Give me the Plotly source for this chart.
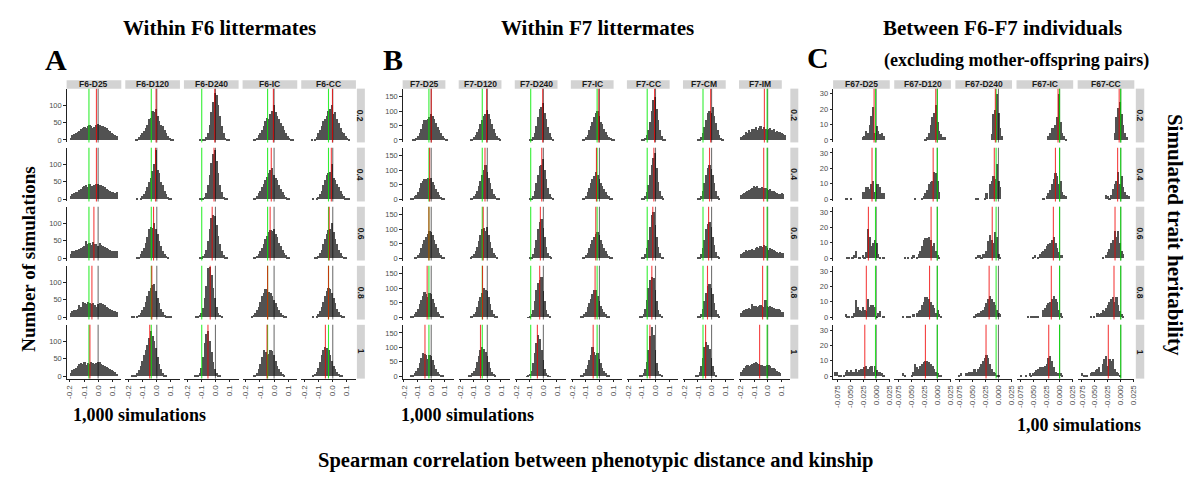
import plotly.graph_objects as go

# ---------------- DATA ----------------
HERITABILITY = ["0.2", "0.4", "0.6", "0.8", "1"]

COLS_A = ["F6-D25", "F6-D120", "F6-D240", "F6-IC", "F6-CC"]
COLS_B = ["F7-D25", "F7-D120", "F7-D240", "F7-IC", "F7-CC", "F7-CM", "F7-IM"]
COLS_C = ["F67-D25", "F67-D120", "F67-D240", "F67-IC", "F67-CC"]

# histogram bins: (first bin index, counts) per heritability row
BIN_ORIGIN_AB, BIN_WIDTH_AB = -0.2, 0.012
BIN_ORIGIN_C, BIN_WIDTH_C = -0.08, 0.00333

F6_D25 = [
    (0, [8,15,18,20,25,28,32,35,38,36,40,45,42,35,38,45,48,45,42,40,38,35,30,28,22,18,15,13]),
    (0, [10,14,18,22,20,28,30,35,38,40,35,45,38,38,40,45,44,42,40,38,35,30,28,25,22,20,18,20]),
    (0, [12,20,22,25,25,28,30,32,35,50,40,45,38,48,42,40,35,45,38,35,32,30,28,25,22,20,22,20]),
    (0, [12,18,20,22,25,35,30,45,40,38,45,40,38,42,35,30,38,40,42,38,35,30,28,25,22,18,17,15]),
    (0, [10,18,22,25,30,35,38,35,40,32,38,35,40,38,35,38,42,40,35,32,30,28,25,22,18,15,12,8]),
]
F6_D120 = [
    (4, [3,5,10,15,22,28,35,45,60,65,85,80,90,70,55,45,40,30,20,12,8,5,3]),
    (5, [2,0,5,10,15,25,35,50,60,80,100,140,85,75,50,40,25,15,8,5,3]),
    (5, [3,5,12,20,30,45,60,85,90,88,100,85,70,50,35,20,12,6,3]),
    (2, [2,2,0,3,6,12,20,30,45,60,75,85,92,95,75,55,40,25,15,8,5,3,2,1]),
    (2, [2,3,5,10,18,30,45,60,75,90,110,130,115,100,80,55,35,20,10,5,3]),
]
F6_D240 = [
    (7, [2,0,3,5,10,20,45,80,110,135,130,100,70,40,20,8,5,2]),
    (7, [1,2,4,8,18,40,70,105,130,140,110,75,40,20,8,3,1]),
    (7, [2,3,6,12,25,50,85,115,125,120,95,65,40,20,10,4,2]),
    (5, [1,3,6,12,28,55,90,140,145,120,85,55,30,12,6,2]),
    (4, [1,2,5,10,25,55,95,120,130,100,70,40,20,10,5,2]),
]
F6_IC = [
    (4, [2,5,8,15,20,30,40,55,65,60,75,85,100,80,70,60,50,40,30,20,12,8,5,3]),
    (4, [3,5,10,18,25,35,45,55,65,75,85,90,70,60,55,40,30,20,12,8,5,3]),
    (4, [2,4,8,12,20,30,40,55,65,75,80,78,85,70,60,45,35,25,15,10,5,3]),
    (3, [3,6,12,20,30,45,60,70,80,78,72,70,60,50,40,30,20,12,8,5,3]),
    (4, [2,5,10,20,35,55,75,70,60,65,75,72,60,45,30,20,12,6,3]),
]
F6_CC = [
    (4, [2,0,5,10,20,30,40,55,60,70,85,90,100,75,80,60,50,35,25,20,12,8,4]),
    (5, [3,0,5,8,15,25,40,55,70,75,78,100,60,55,45,35,25,15,10,5,3,2]),
    (6, [2,4,8,15,25,40,55,70,80,85,100,75,55,40,25,15,8,4,2]),
    (5, [2,0,5,10,18,30,45,60,75,85,80,70,55,40,25,15,8,4,2]),
    (5, [3,6,12,25,40,60,75,85,80,75,60,45,30,20,12,6,3,1]),
]
F7_D25 = [
    (5, [2,4,8,15,25,40,55,70,72,75,80,90,85,75,60,45,35,25,15,8,4,2]),
    (4, [2,5,10,15,25,40,55,65,70,72,75,70,75,60,50,35,25,15,8,4,2]),
    (6, [2,5,10,20,35,50,65,75,85,95,90,80,65,50,35,20,10,5,2]),
    (4, [2,5,10,20,30,45,60,75,88,80,70,85,80,65,50,35,20,10,5,2]),
    (4, [2,5,10,18,30,45,65,80,78,75,60,75,70,55,40,25,15,8,4,2]),
]
F7_D120 = [
    (6, [2,4,10,18,28,40,55,70,85,92,105,90,75,55,40,25,15,8,3]),
    (6, [2,5,10,20,30,45,65,85,100,120,95,75,55,35,20,10,5,2]),
    (6, [3,8,15,25,40,60,80,100,105,95,110,80,55,35,20,10,4]),
    (6, [2,5,10,20,35,55,70,85,100,95,90,70,45,25,12,5,2]),
    (5, [2,5,10,18,30,50,70,90,100,95,85,70,50,30,15,8,3]),
]
F7_D240 = [
    (8, [2,5,10,25,50,80,110,115,130,95,75,45,25,10,4]),
    (8, [2,5,12,28,55,85,115,120,140,100,70,40,20,8,3]),
    (8, [2,6,15,35,65,100,125,135,105,75,40,20,8,3]),
    (7, [1,4,10,25,55,95,120,130,140,90,55,25,10,3]),
    (6, [1,3,8,20,45,80,115,145,130,90,55,25,10,3,1]),
]
F7_IC = [
    (6, [3,5,10,20,35,50,65,80,95,100,85,65,55,40,30,20,12,8,4,2]),
    (6, [2,5,12,25,40,55,70,80,95,85,70,55,45,35,25,15,10,5,2]),
    (6, [2,5,10,20,35,50,65,75,85,90,80,65,50,35,25,15,8,4,2]),
    (5, [2,5,10,20,35,50,65,80,95,95,75,55,40,28,18,10,5,2]),
    (5, [2,5,12,25,40,55,75,100,85,75,80,60,45,30,18,10,5,2]),
]
F7_CC = [
    (8, [2,3,8,18,35,65,100,140,150,110,70,35,15,5,2]),
    (8, [2,5,10,25,50,85,120,145,160,110,60,30,12,4]),
    (8, [3,6,15,35,65,110,150,160,115,75,40,18,6,2]),
    (7, [2,5,12,30,60,100,130,140,135,95,55,25,10,3]),
    (7, [2,4,10,25,50,90,140,170,145,90,45,20,8,2]),
]
F7_CM = [
    (8, [2,4,10,25,45,70,95,100,95,115,85,60,35,18,8,3]),
    (8, [2,5,12,30,55,85,110,120,105,85,55,30,12,4]),
    (8, [2,6,15,35,65,100,120,125,110,75,45,22,8,3]),
    (8, [2,5,12,28,55,85,110,115,100,80,50,25,10,3]),
    (7, [2,5,15,35,65,100,120,110,95,65,35,15,5]),
]
F7_IM = [
    (0, [12,15,20,28,25,35,30,40,38,45,35,42,50,40,45,38,35,40,42,35,38,30,32,28,30,25,22,20]),
    (0, [15,18,22,25,28,32,35,40,45,42,45,40,38,42,40,38,35,32,35,30,28,25,22,20,18,22,20]),
    (0, [15,20,22,28,25,30,28,32,30,35,38,35,42,40,45,42,35,30,35,32,28,25,22,20,22,20,18]),
    (0, [15,22,25,28,30,32,28,45,38,40,35,38,42,38,35,60,40,35,38,35,32,30,28,30,25,20,18]),
    (0, [15,22,30,35,38,35,40,42,45,50,45,42,40,38,35,35,40,38,35,30,28,25,20,15,12]),
]
F67_D25 = [
    (16, [2,3,6,5,10,16,22,5,9,6,4,5,3]),
    (6, [1,1,0,1,0,0,0,0,0,0,5,5,8,8,7,10,12,5,10,10,8,4,4]),
    (7, [1,1,0,1,2,5,0,1,0,2,1,4,19,14,8,10,12,10,3,1,0,1]),
    (6, [2,1,1,0,1,3,11,7,5,4,7,5,4,12,7,8,8,7,1,3,4,0,1]),
    (0, [3,3,1,1,0,1,3,4,3,4,3,3,5,3,4,5,5,6,7,5,6,7,3,7,4,3,3,2,1]),
]
F67_D120 = [
    (17, [1,2,5,10,15,18,23,12,6,4,2,2]),
    (11, [1,0,0,0,1,2,4,6,10,11,12,18,17,12,5]),
    (5, [1,0,1,0,1,2,0,1,3,5,8,12,13,13,14,12,8,10,5,2,1]),
    (4, [1,0,1,1,1,0,2,0,3,4,5,8,10,13,13,12,10,8,6,3,5,2,1]),
    (4, [2,1,0,0,0,1,3,8,6,5,7,8,9,10,10,9,8,7,5,3,2,1,1]),
]
F67_D240 = [
    (20, [4,17,20,30,18,8,3]),
    (11, [1,1,0,0,0,1,4,0,10,12,15,13,23,12,8]),
    (11, [1,2,2,1,3,3,5,11,15,12,10,17,14,3,1]),
    (10, [1,2,3,3,4,5,7,9,12,14,12,10,8,5,3,2]),
    (1, [1,2,0,0,2,2,3,3,3,5,3,5,6,8,10,12,14,12,8,5,3,2,1,1]),
]
F67_IC = [
    (17, [3,5,8,8,10,15,30,12,5,3,1]),
    (14, [1,0,2,4,6,10,13,17,15,10,12,5,3,2]),
    (8, [1,2,0,1,3,4,5,6,8,9,10,12,14,10,7,4,2,2]),
    (5, [1,0,1,1,1,1,1,0,0,5,6,8,9,10,12,14,12,10,5,3,1]),
    (1, [1,0,0,1,0,2,1,2,3,4,5,6,6,6,7,8,12,13,10,6,3,2,2,2,1]),
]
F67_CC = [
    (20, [5,15,21,25,17,10,5,2]),
    (15, [3,2,1,3,7,10,12,18,10,15,8,5,3,2]),
    (13, [1,0,2,4,6,10,12,18,14,18,10,5,3]),
    (6, [1,0,1,0,3,2,3,5,4,6,8,10,12,13,10,13,8,4,2,1]),
    (1, [2,1,1,1,0,2,3,3,4,5,6,3,8,11,13,7,11,10,11,5,3,2,1]),
]

# observed correlation (green), per column
OBS_A = [-0.065, -0.039, -0.097, -0.046, -0.030]
OBS_B = [-0.017, -0.037, -0.093, -0.017, -0.061, -0.063, -0.004]
OBS_C = [-0.0013, 0.0, -0.0045, 0.0, 0.0]
# mean simulated correlation (red), per column per heritability
SIM_A = [
    [-0.012, -0.012, -0.030, -0.044, -0.058],
    [-0.005, -0.009, -0.023, -0.035, -0.050],
    [-0.005, -0.010, -0.023, -0.037, -0.053],
    [-0.005, -0.020, -0.028, -0.046, -0.050],
    [-0.002, -0.010, -0.025, -0.030, -0.052],
]
SIM_B = [
    [0.000, -0.012, -0.017, -0.030, -0.046],
    [-0.005, -0.017, -0.030, -0.035, -0.050],
    [-0.005, -0.012, -0.022, -0.027, -0.044],
    [-0.005, -0.022, -0.027, -0.032, -0.046],
    [-0.007, -0.012, -0.020, -0.027, -0.041],
    [-0.007, -0.015, -0.022, -0.030, -0.044],
    [-0.024, -0.029, -0.029, -0.037, -0.059],
]
SIM_C = [
    [-0.004, -0.008, -0.015, -0.019, -0.022],
    [-0.003, -0.008, -0.012, -0.015, -0.023],
    [-0.006, -0.008, -0.012, -0.018, -0.024],
    [-0.003, -0.008, -0.012, -0.016, -0.021],
    [-0.003, -0.006, -0.011, -0.013, -0.024],
]
ZERO_LINE = 0.0

TICKS_AB = [-0.2, -0.1, 0.0, 0.1]
TICKTEXT_AB = ["-0.2", "-0.1", "0.0", "0.1"]
TICKS_C = [-0.075, -0.05, -0.025, 0.0, 0.025]
TICKTEXT_C = ["-0.075", "-0.050", "-0.025", "0.000", "0.025"]

# ---------------- LAYOUT ----------------
W, H = 1192, 480
ROW_TOP0, ROW_STEP, ROW_H = 89.0, 59.3, 54.0
STRIP_TOP, STRIP_BOT = 80.5, 89.0

PANELS = [
    dict(cols=COLS_A, hists=[F6_D25, F6_D120, F6_D240, F6_IC, F6_CC], obs=OBS_A, sim=SIM_A,
         left=64, step=59, width=55, strip_w=55, rstrip=(356, 364),
         xr=[-0.223, 0.164], yr=[-7, 147], yt=[0, 50, 100],
         xt=TICKS_AB, xtt=TICKTEXT_AB, origin=BIN_ORIGIN_AB, bw=BIN_WIDTH_AB),
    dict(cols=COLS_B, hists=[F7_D25, F7_D120, F7_D240, F7_IC, F7_CC, F7_CM, F7_IM], obs=OBS_B, sim=SIM_B,
         left=402, step=56.4, width=51.5, strip_w=43, rstrip=(792, 800),
         xr=[-0.21, 0.166], yr=[-8.5, 178], yt=[0, 50, 100, 150],
         xt=TICKS_AB, xtt=TICKTEXT_AB, origin=BIN_ORIGIN_AB, bw=BIN_WIDTH_AB),
    dict(cols=COLS_C, hists=[F67_D25, F67_D120, F67_D240, F67_IC, F67_CC], obs=OBS_C, sim=SIM_C,
         left=835, step=61.5, width=57, strip_w=57, rstrip=(1139.5, 1148),
         xr=[-0.0833, 0.0263], yr=[-1.6, 33.4], yt=[0, 10, 20, 30],
         xt=TICKS_C, xtt=TICKTEXT_C, origin=BIN_ORIGIN_C, bw=BIN_WIDTH_C),
]

def fx(px):
    return px / W

def fy(py):
    return 1 - py / H

def axname(prefix, k):
    return prefix if k == 1 else f"{prefix}{k}"

XTICKFONT = dict(family="Liberation Sans, Arial", size=8, color="#4d4d4d")
YTICKFONT = dict(family="Liberation Sans, Arial", size=7.5, color="#4d4d4d")
STRIPFONT = dict(family="Liberation Sans, Arial", size=8.5, color="#1a1a1a")
AXLINE = "#222222"

fig = go.Figure()
layout = {}
shapes = []
annotations = []

def note(x, y, s, font, angle=0):
    annotations.append(dict(x=fx(x), y=fy(y), xref="paper", yref="paper", text=s,
                            showarrow=False, textangle=angle, xanchor="center", yanchor="middle",
                            font=font))

xk = 0
for p, P in enumerate(PANELS):
    first_x = xk + 1
    ncol = len(P["cols"])
    # y axes (one per row)
    for r in range(5):
        yk = p * 5 + r + 1
        top = ROW_TOP0 + r * ROW_STEP
        layout["yaxis" if yk == 1 else f"yaxis{yk}"] = dict(
            domain=[fy(top + ROW_H), fy(top)], range=P["yr"], anchor=axname("x", first_x),
            showline=True, linecolor=AXLINE, linewidth=0.8, ticks="outside", ticklen=2.5,
            tickcolor=AXLINE, tickwidth=0.8, tickvals=P["yt"], tickfont=YTICKFONT,
            showgrid=False, zeroline=False, fixedrange=True)
        # right strip
        x0s, x1s = P["rstrip"]
        shapes.append(dict(type="rect", xref="paper", yref="paper", x0=fx(x0s), x1=fx(x1s),
                           y0=fy(top + ROW_H), y1=fy(top), fillcolor="#d3d3d3", line=dict(width=0),
                           layer="below"))
        note((x0s + x1s) / 2, top + ROW_H / 2, f"<b>{HERITABILITY[r]}</b>", STRIPFONT, 90)
    for c in range(ncol):
        xk += 1
        left = P["left"] + c * P["step"]
        layout["xaxis" if xk == 1 else f"xaxis{xk}"] = dict(
            domain=[fx(left), fx(left + P["width"])], range=P["xr"], anchor=axname("y", p * 5 + 5),
            showline=True, linecolor=AXLINE, linewidth=0.8, ticks="outside", ticklen=2.5,
            tickcolor=AXLINE, tickwidth=0.8, tickvals=P["xt"], ticktext=P["xtt"], tickangle=-90,
            tickfont=XTICKFONT, showgrid=False, zeroline=False, fixedrange=True)
        # top strip
        shapes.append(dict(type="rect", xref="paper", yref="paper", x0=fx(left), x1=fx(left + P["strip_w"]),
                           y0=fy(STRIP_BOT), y1=fy(STRIP_TOP), fillcolor="#d3d3d3", line=dict(width=0),
                           layer="below"))
        note(left + P["strip_w"] / 2, (STRIP_TOP + STRIP_BOT) / 2, f"<b>{P['cols'][c]}</b>", STRIPFONT)
        for r in range(5):
            yk = p * 5 + r + 1
            start, counts = P["hists"][c][r]
            centers = [P["origin"] + (start + i + 0.5) * P["bw"] for i in range(len(counts))]
            fig.add_trace(go.Bar(x=centers, y=counts, width=P["bw"], xaxis=axname("x", xk),
                                 yaxis=axname("y", yk), marker=dict(color="#525252", line=dict(width=0)),
                                 showlegend=False, hoverinfo="skip"))
            for val, col in [(ZERO_LINE, "rgba(0,0,0,0.55)"), (P["obs"][c], "rgba(0,235,0,0.8)"),
                             (P["sim"][c][r], "rgba(240,0,0,0.75)")]:
                shapes.append(dict(type="line", xref=axname("x", xk), yref=f"{axname('y', yk)} domain",
                                   x0=val, x1=val, y0=0, y1=1, line=dict(color=col, width=1.1)))

SERIF = "Liberation Serif, Times New Roman, serif"
def txt(x, y, s, size, angle=0):
    note(x, y, f"<b>{s}</b>", dict(family=SERIF, size=size, color="black"), angle)

txt(218, 28, "Within F6 littermates", 21)
txt(598, 28, "Within F7 littermates", 21)
txt(1005, 28, "Between F6-F7 individuals", 21)
txt(1019, 61, "(excluding mother-offspring pairs)", 18)
txt(53, 60, "A", 30)
txt(392, 60, "B", 30)
txt(820, 58, "C", 30)
txt(26, 260, "Number of simulations", 19, -90)
txt(1179, 236, "Simulated trait heritability", 21, 90)
txt(137, 417, "1,000 simulations", 18)
txt(467, 417, "1,000 simulations", 18)
txt(1082, 427, "1,00 simulations", 18)
txt(596, 462, "Spearman correlation between phenotypic distance and kinship", 20.5)

fig.update_layout(width=W, height=H, margin=dict(l=0, r=0, t=0, b=0), paper_bgcolor="white",
                  plot_bgcolor="white", showlegend=False, barmode="overlay", bargap=0,
                  shapes=shapes, annotations=annotations, **layout)

fig.write_html("out.html")
